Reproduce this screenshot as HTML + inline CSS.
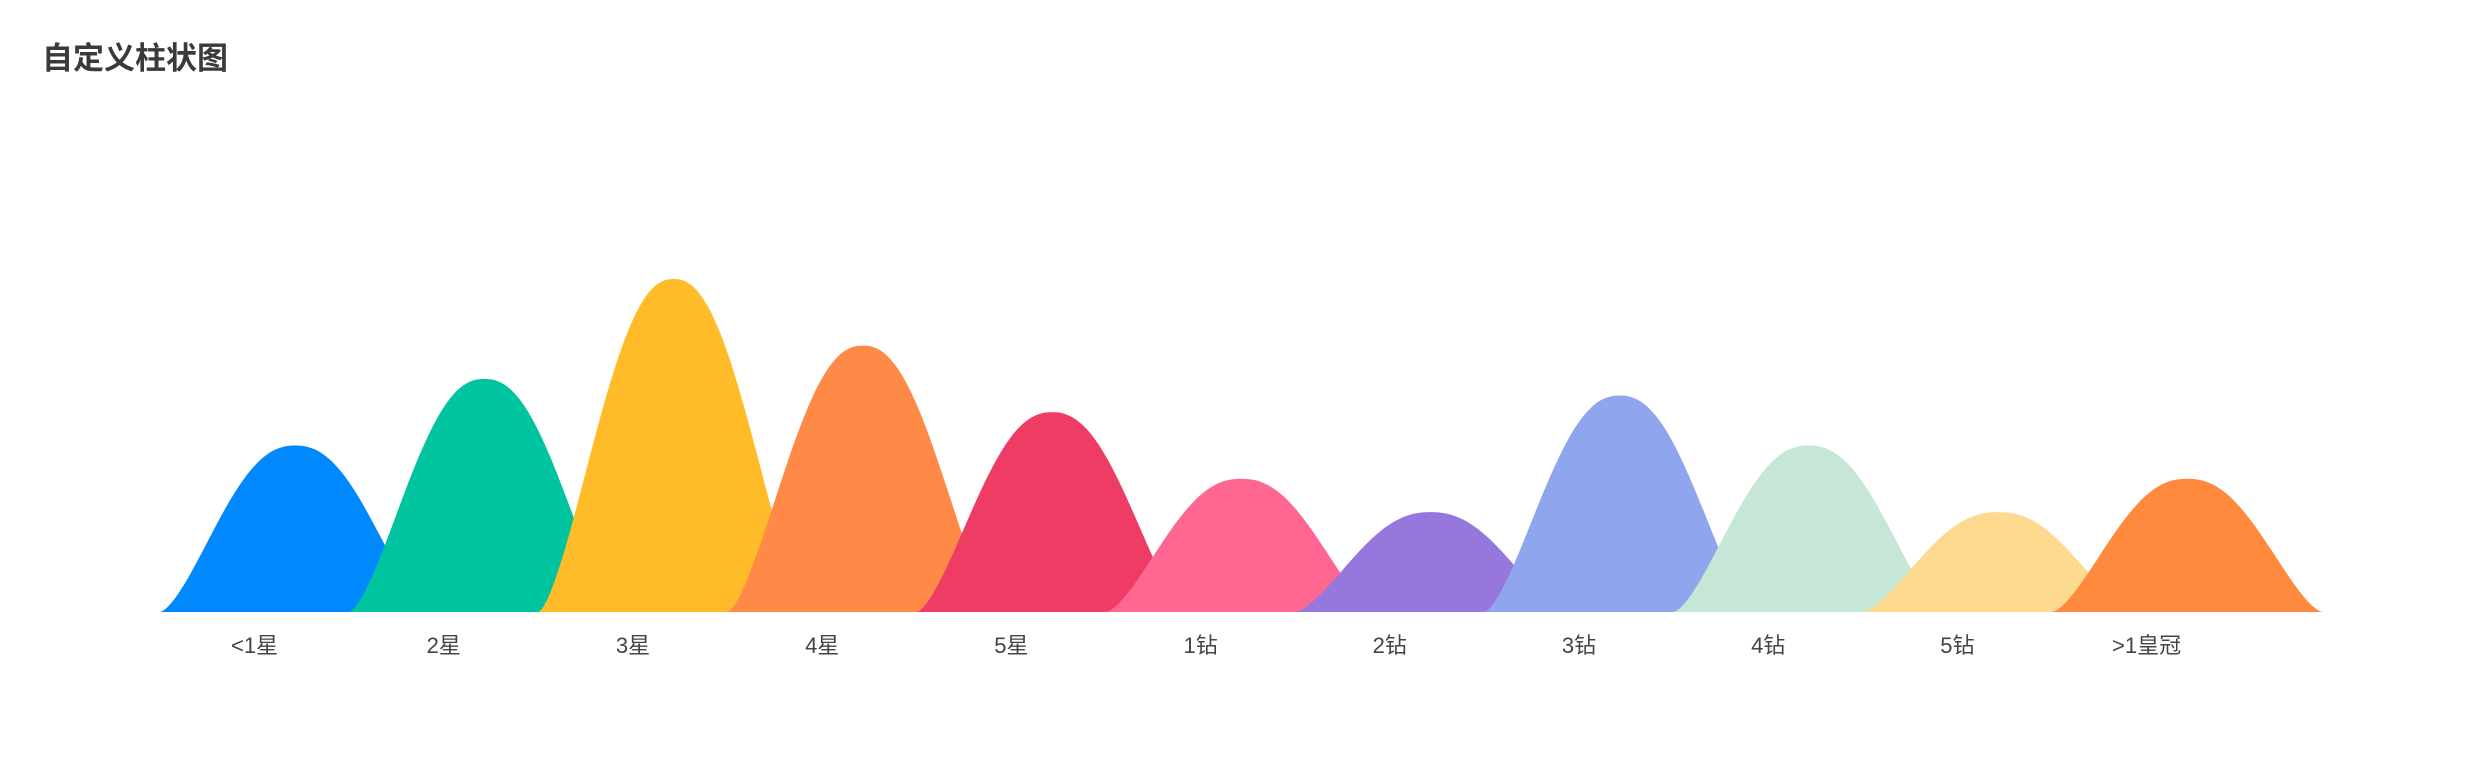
<!DOCTYPE html>
<html><head><meta charset="utf-8"><style>
html,body{margin:0;padding:0;background:#fff;width:2480px;height:760px;overflow:hidden}
#title{position:absolute;left:42px;top:33px;font:bold 31px "Liberation Sans","Noto Sans CJK SC",sans-serif;color:#3a3a3a}
svg{position:absolute;left:0;top:0}
</style></head><body>
<div id="title">自定义柱状图</div>
<svg id="chart" width="2480" height="760"></svg>
<script>
const categories = ["<1星","2星","3星","4星","5星","1钻","2钻","3钻","4钻","5钻",">1皇冠"];
const values = [5,7,10,8,6,4,3,6.5,5,3,4];
const colors = ["#0088FE","#00C49F","#FFBB28","#FF8A48","#EE3C64","#FF6692","#9677DD","#8FA5EE","#C6E7D5","#FEDA90","#FF8A3D"];
const yMax = 10;
const base = 612, plotH = 333, x0 = 160, step = 189.2;
function yScale(v){ return base - v / yMax * plotH; }
function xBand(i){ return x0 + i * step; }
const svg = document.getElementById('chart');
const NS = 'http://www.w3.org/2000/svg';
categories.forEach((c, i) => {
  const xs = xBand(i), w = step * 1.43, top = yScale(values[i]), h = base - top;
  let d = 'M' + xs + ',' + base;
  for (let k = 1; k <= 100; k++) {
    const t = k / 100;
    const g = Math.pow(Math.max(0, Math.sin(Math.PI * t)), 1.5);
    const f = 1 - Math.pow(1 - g, 1.15);
    d += ' L' + (xs + w * t).toFixed(1) + ',' + (base - h * f).toFixed(1);
  }
  d += ' Z';
  const p = document.createElementNS(NS, 'path');
  p.setAttribute('d', d);
  p.setAttribute('fill', colors[i]);
  
  
  svg.appendChild(p);
  const tx = document.createElementNS(NS, 'text');
  tx.setAttribute('x', xs + step / 2);
  tx.setAttribute('y', 653);
  tx.setAttribute('text-anchor', 'middle');
  tx.setAttribute('font-size', '22');
  tx.setAttribute('fill', '#444');
  tx.setAttribute('font-family', '"Liberation Sans","Noto Sans CJK SC",sans-serif');
  tx.textContent = c;
  
  
  svg.appendChild(tx);
});
</script>
</body></html>
